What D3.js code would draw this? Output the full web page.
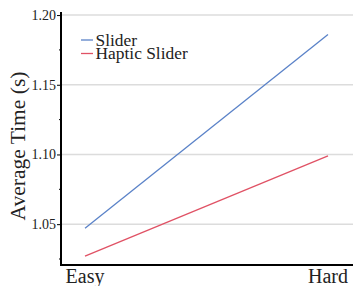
<!DOCTYPE html>
<html>
<head>
<meta charset="utf-8">
<script src="https://cdn.jsdelivr.net/npm/d3@7"></script>
<style>
  body { margin: 0; background: #fff; }
  svg { display: block; font-family: "Liberation Serif", "Times New Roman", serif; }
</style>
</head>
<body>
<div id="chart"></div>
<script>
// data
var levels = ['Easy', 'Hard'];
var slider = [1.047, 1.186];
var hapticSlider = [1.027, 1.099];
var majorTicks = [1.05, 1.10, 1.15, 1.20];
var minorTicks = [1.025, 1.075, 1.125, 1.175];

var width = 353, height = 286;
var svg = d3.select('#chart').append('svg')
	.attr('width', width)
	.attr('height', height);

// plot area
var pLeft = 61, pRight = 353, pTop = 12, pBottom = 265;

var x = d3.scalePoint().domain(levels).range([85, 328]);
var y = d3.scaleLinear().domain([1.0207, 1.2022]).range([pBottom, pTop]);

// gridlines
svg.append('g').selectAll('line')
	.data(majorTicks)
	.enter().append('line')
	.attr('x1', pLeft).attr('x2', pRight)
	.attr('y1', function(d){ return y(d); })
	.attr('y2', function(d){ return y(d); })
	.attr('stroke', '#dcdcdc')
	.attr('stroke-width', 1.5);

// y axis with major + minor ticks
var yAxis = svg.append('g')
	.attr('transform', 'translate(' + pLeft + ',0)')
	.call(d3.axisLeft(y).tickValues(majorTicks).tickFormat(d3.format('.2f')).tickSize(4).tickSizeOuter(0).tickPadding(1));
yAxis.select('.domain').remove();
yAxis.selectAll('text').attr('font-size', 14).attr('fill', '#222').attr('font-family', 'Liberation Serif');
yAxis.selectAll('line').attr('stroke', '#000');

svg.append('g').selectAll('line')
	.data(minorTicks)
	.enter().append('line')
	.attr('x1', pLeft - 2).attr('x2', pLeft)
	.attr('y1', function(d){ return y(d); })
	.attr('y2', function(d){ return y(d); })
	.attr('stroke', '#000');

// axis lines
svg.append('line')
	.attr('x1', pLeft).attr('x2', pLeft)
	.attr('y1', pTop).attr('y2', pBottom + 1)
	.attr('stroke', '#000').attr('stroke-width', 2);
svg.append('line')
	.attr('x1', pLeft - 1).attr('x2', pRight)
	.attr('y1', pBottom).attr('y2', pBottom)
	.attr('stroke', '#000').attr('stroke-width', 2);

// x labels
svg.append('g').selectAll('text')
	.data(levels)
	.enter().append('text')
	.attr('x', function(d){ return x(d); })
	.attr('y', 283)
	.attr('text-anchor', 'middle')
	.attr('font-size', 20)
	.attr('fill', '#222')
	.text(function(d){ return d; });

// y title
svg.append('text')
	.attr('transform', 'translate(25,146) rotate(-90)')
	.attr('text-anchor', 'middle')
	.attr('font-size', 21.5)
	.attr('fill', '#222')
	.text('Average Time (s)');

// series
var series = [
	{name: 'Slider', values: slider, color: '#5a82c8'},
	{name: 'Haptic Slider', values: hapticSlider, color: '#e05265'}
];

var line = d3.line()
	.x(function(d, i){ return x(levels[i]); })
	.y(function(d){ return y(d); });

series.forEach(function(s, i){
	svg.append('path')
		.datum(s.values)
		.attr('d', line)
		.attr('fill', 'none')
		.attr('stroke', s.color)
		.attr('stroke-width', 1.3);

	// legend
	var ly = 40 + i * 13.5;
	svg.append('line')
		.attr('x1', 81).attr('x2', 93)
		.attr('y1', ly).attr('y2', ly)
		.attr('stroke', s.color)
		.attr('stroke-width', 1.3);
	svg.append('text')
		.attr('x', 95.5)
		.attr('y', ly + 5.5)
		.attr('font-size', 17.4)
		.attr('fill', '#222')
		.text(s.name);
});
</script>
</body>
</html>
